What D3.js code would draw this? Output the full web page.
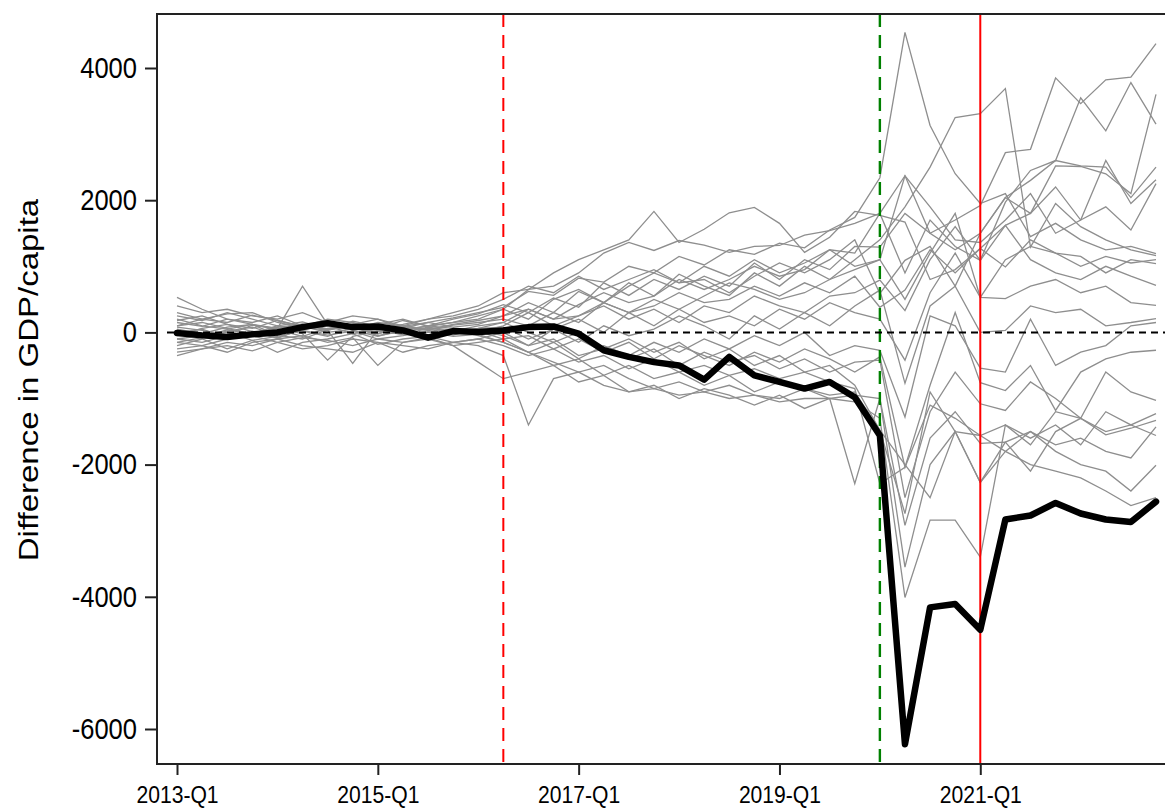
<!DOCTYPE html>
<html>
<head>
<meta charset="utf-8">
<script src="https://cdn.jsdelivr.net/npm/d3@7"></script>
<style>
  html, body { margin: 0; padding: 0; background: #fff; }
  svg { display: block; }
  text { font-family: "Liberation Sans", Arial, sans-serif; fill: #000; }
</style>
</head>
<body>
<svg id="chart" width="1165" height="810"></svg>
<script>
// ---------------- DATA ----------------
const quarters = [
  "2013-Q1","2013-Q2","2013-Q3","2013-Q4","2014-Q1","2014-Q2","2014-Q3","2014-Q4",
  "2015-Q1","2015-Q2","2015-Q3","2015-Q4","2016-Q1","2016-Q2","2016-Q3","2016-Q4",
  "2017-Q1","2017-Q2","2017-Q3","2017-Q4","2018-Q1","2018-Q2","2018-Q3","2018-Q4",
  "2019-Q1","2019-Q2","2019-Q3","2019-Q4","2020-Q1","2020-Q2","2020-Q3","2020-Q4",
  "2021-Q1","2021-Q2","2021-Q3","2021-Q4","2022-Q1","2022-Q2","2022-Q3","2022-Q4"
];
const xTickLabels = ["2013-Q1","2015-Q1","2017-Q1","2019-Q1","2021-Q1"];
const yTickValues = [-6000,-4000,-2000,0,2000,4000];
const eventDashedRed = "2016-Q2";
const eventDashedGreen = "2020-Q1";
const eventSolidRed = "2021-Q1";
const yLabel = "Difference in GDP/capita";

// treated unit (black)
const treated = [-10,-45,-70,-30,0,80,140,80,90,30,-80,20,5,
  30,80,90,-20,-270,-370,-450,-500,-715,-370,-650,-750,-850,-750,-980,
  -1560,-6230,-4160,-4110,-4500,-2830,-2770,-2580,-2740,-2830,-2870,-2560];

// placebo units (grey)
const placebo01 = [150,90,200,120,60,130,40,170,90,60,150,220,300,
  380,620,560,820,760,1000,900,1150,1020,1250,1180,1350,1280,1550,1740,
  2340,4540,3130,2400,1950,2100,1450,1650,1400,1250,1300,1190];
const placebo02 = [250,180,300,200,100,160,50,130,60,180,100,200,280,
  420,300,520,380,750,560,800,650,850,700,1050,800,1100,950,1300,
  1290,1800,1500,1700,1920,2720,2770,3850,3460,3820,3860,4370];
const placebo03 = [180,250,120,60,180,90,0,50,150,100,40,120,180,
  250,450,300,620,450,750,550,880,700,560,900,700,1000,800,1100,
  1400,1900,2500,3250,3310,3690,1290,1950,1600,1400,1250,1160];
const placebo04 = [-50,60,120,10,-80,40,120,70,-20,90,150,80,120,
  250,350,200,420,600,450,550,800,650,800,1000,850,950,1250,1200,
  1800,2370,1500,1250,1500,2040,2300,2600,3550,3050,3780,3150];
const placebo05 = [80,30,-40,110,60,700,120,40,80,30,100,150,250,
  350,650,900,1100,1250,1400,1830,1360,1560,1810,1890,1650,1210,1440,1830,
  1770,1670,800,950,1270,1620,1800,2520,2510,2400,2100,3600];
const placebo06 = [300,200,150,260,180,90,200,150,60,120,200,300,400,
  600,650,700,900,1200,1360,1240,1390,1320,1210,1300,1315,1470,1540,1650,
  1800,900,1700,1300,1090,1970,2450,2600,2520,2500,2040,2500];
const placebo07 = [-150,-80,40,-20,100,20,-60,80,30,-30,60,20,100,
  150,350,200,250,450,300,500,350,550,750,650,500,600,800,950,
  1100,2370,1900,1400,1360,1700,2100,1500,1700,2600,1950,2310];
const placebo08 = [530,350,200,150,250,100,180,60,120,200,90,150,200,
  350,200,500,650,450,700,900,750,800,600,850,1050,900,1100,1400,
  590,1090,1300,700,1500,2040,1800,2200,1700,1900,1550,2250];
const placebo09 = [100,200,280,300,150,80,30,120,200,60,40,110,150,
  200,100,300,150,450,300,400,600,450,500,700,550,750,600,850,
  380,640,1250,900,1270,990,1400,1200,1150,900,1100,1040];
const placebo10 = [-100,-150,-50,20,-90,60,140,30,-60,40,100,60,0,
  100,300,100,250,400,200,350,150,400,300,550,400,300,550,600,
  790,330,1100,1600,1090,1620,1100,900,800,1000,850,710];
const placebo11 = [50,-20,80,120,40,-60,60,100,-20,80,30,-40,60,
  80,-100,50,200,0,300,100,350,150,250,100,350,200,450,300,
  200,-420,600,1200,530,510,700,800,600,700,450,410];
const placebo12 = [-200,-100,-250,-120,-300,-150,-100,-20,-180,-100,-60,-150,-100,
  0,-200,50,-150,100,-50,50,250,100,-100,250,50,300,100,400,
  640,-770,400,700,0,30,400,300,350,100,150,210];
const placebo13 = [-300,-250,-150,-200,-100,-50,-150,-80,-500,-150,-100,-200,-150,
  -100,-300,-150,-400,-200,-350,-150,-300,-100,-250,-50,-200,0,-350,-200,
  -270,-1280,250,100,-540,-600,200,-500,-300,-200,100,150];
const placebo14 = [0,50,-80,-30,60,-20,-420,-60,20,-30,0,50,20,
  -100,-50,-250,-100,-300,-150,-400,-200,-350,-500,-300,-450,-250,-400,-600,
  -370,-2040,-800,300,-760,-880,-500,-1180,-600,-400,-300,-270];
const placebo15 = [100,150,60,-30,80,120,30,-470,40,100,50,-20,30,
  -50,-200,-100,-350,-250,-400,-250,-500,-300,-450,-350,-550,-400,-600,-450,
  -420,-2500,-1200,-600,-1080,-1180,-750,-1000,-1300,-600,-900,-1030];
const placebo16 = [-100,-50,0,-120,-60,30,-40,20,-100,-50,10,-60,-30,
  -150,-300,-500,-400,-650,-500,-700,-600,-800,-650,-900,-750,-850,-950,-900,
  -1480,-2740,-900,-1500,-1560,-1400,-1600,-1400,-1700,-1200,-1400,-1230];
const placebo17 = [200,100,50,120,-40,60,100,-20,50,0,80,30,-50,
  -150,-300,-450,-600,-500,-700,-850,-750,-900,-800,-950,-1000,-850,-1000,-950,
  -1000,-2920,-1600,-1200,-1680,-1660,-2100,-1500,-1300,-1550,-1450,-1330];
const placebo18 = [-250,-200,-300,-150,-100,-200,-250,-300,-150,-200,-250,-150,-200,
  -350,-1400,-700,-600,-800,-900,-850,-950,-900,-1000,-950,-1050,-1000,-1000,-2290,
  -1000,-3550,-2000,-1500,-2270,-1800,-1500,-1700,-1600,-1800,-1900,-1430];
const placebo19 = [-350,-250,-200,-280,-150,-80,-120,-200,-100,-150,-80,-200,-450,
  -700,-600,-500,-750,-650,-900,-800,-1000,-850,-950,-1100,-950,-1150,-1000,-1050,
  -1300,-4010,-2840,-2840,-3400,-1400,-1700,-1200,-1300,-1500,-1400,-1560];
const placebo20 = [30,-60,20,80,-40,-100,40,90,-50,20,-40,10,60,
  150,0,-150,0,-250,-100,-300,-150,-400,-250,-500,-350,-600,-500,-800,
  -1480,-2000,-2500,-1500,-2270,-1660,-1500,-1800,-2000,-2100,-2400,-2010];
const placebo21 = [400,300,350,250,200,300,150,250,200,100,200,250,350,
  500,700,600,850,650,800,950,750,1000,850,1100,900,1050,1250,1000,
  1100,500,1200,1800,530,1100,1300,1200,1000,1150,1050,1100];
const placebo22 = [-150,-200,-100,-50,-150,-250,-200,-100,-150,-300,-200,-150,-100,
  -200,-350,-250,-450,-350,-550,-400,-600,-500,-650,-550,-700,-600,-750,-850,
  -2290,-2040,-1100,-1300,-1560,-1800,-2000,-2100,-2200,-2400,-2620,-2500];

const placeboSeries = [placebo01,placebo02,placebo03,placebo04,placebo05,placebo06,
  placebo07,placebo08,placebo09,placebo10,placebo11,placebo12,placebo13,placebo14,
  placebo15,placebo16,placebo17,placebo18,placebo19,placebo20,placebo21,placebo22];

// ---------------- LAYOUT ----------------
const svg = d3.select("#chart");
const plotLeft = 157, plotTop = 14, plotBottom = 764, plotRight = 1165;
const squeeze = 0.88; // horizontal glyph compression seen in the reference
const fontFam = '"Liberation Sans", Arial, sans-serif';

const x = d3.scalePoint().domain(quarters).range([177, 1156]);
const y = d3.scaleLinear().domain([-6000, 4000]).range([729, 68]);

const line = d3.line()
  .x((d, i) => x(quarters[i]))
  .y(d => y(d));

// placebo lines
svg.append("g")
  .selectAll("path")
  .data(placeboSeries)
  .join("path")
  .attr("d", line)
  .attr("fill", "none")
  .attr("stroke", "#8e8e8e")
  .attr("stroke-width", 1.3);

// event lines
function vline(q, color, dash, width) {
  svg.append("line")
    .attr("x1", x(q)).attr("x2", x(q))
    .attr("y1", plotTop).attr("y2", plotBottom)
    .attr("stroke", color)
    .attr("stroke-width", width)
    .attr("stroke-dasharray", dash);
}
vline(eventDashedRed, "#ff0000", "13,8", 2);
vline(eventDashedGreen, "#008000", "13,8", 2.4);
vline(eventSolidRed, "#ff0000", null, 2);

// zero line
svg.append("line")
  .attr("x1", plotLeft + 10).attr("x2", plotRight)
  .attr("y1", y(0)).attr("y2", y(0))
  .attr("stroke", "#000")
  .attr("stroke-width", 2)
  .attr("stroke-dasharray", "7,5");

// treated line
svg.append("path")
  .datum(treated)
  .attr("d", line)
  .attr("fill", "none")
  .attr("stroke", "#000")
  .attr("stroke-width", 6.5)
  .attr("stroke-linejoin", "round")
  .attr("stroke-linecap", "round");

// frame
svg.append("path")
  .attr("d", `M${plotRight},${plotTop}H${plotLeft}V${plotBottom}H${plotRight}`)
  .attr("fill", "none")
  .attr("stroke", "#222")
  .attr("stroke-width", 2);

// axes
const yAxis = svg.append("g")
  .attr("transform", `translate(${plotLeft},0)`)
  .call(d3.axisLeft(y).tickValues(yTickValues).tickSize(12).tickPadding(8)
    .tickFormat(d => String(d)));
yAxis.select(".domain").remove();
yAxis.selectAll(".tick line").attr("stroke", "#222").attr("stroke-width", 2);
yAxis.selectAll(".tick text")
  .attr("x", 0)
  .attr("transform", `translate(-20,0) scale(${squeeze},1)`)
  .style("font-size", "29px")
  .style("font-family", fontFam).attr("fill", "#000");

const xAxis = svg.append("g")
  .attr("transform", `translate(0,${plotBottom})`)
  .call(d3.axisBottom(x).tickValues(xTickLabels).tickSize(11).tickPadding(6));
xAxis.select(".domain").remove();
xAxis.selectAll(".tick line").attr("stroke", "#222").attr("stroke-width", 2);
xAxis.selectAll(".tick text")
  .attr("y", 0)
  .attr("transform", `translate(0,22) scale(${squeeze},1)`)
  .style("font-size", "24px")
  .style("font-family", fontFam).attr("fill", "#000");

// y title
svg.append("text")
  .attr("transform", `translate(38,380) rotate(-90) scale(1,0.85)`)
  .attr("text-anchor", "middle")
  .style("font-size", "33px")
  .text(yLabel);
</script>
</body>
</html>
